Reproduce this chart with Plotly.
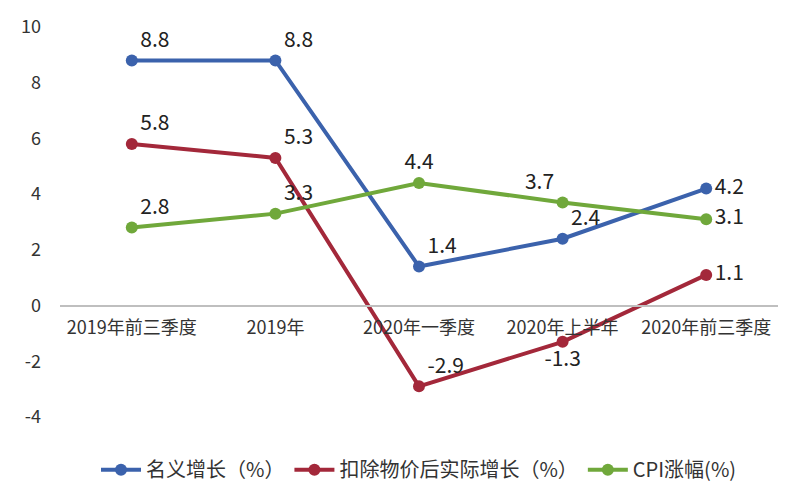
import plotly.graph_objects as go

categories = ["2019年前三季度", "2019年", "2020年一季度", "2020年上半年", "2020年前三季度"]
nominal = [8.8, 8.8, 1.4, 2.4, 4.2]
real = [5.8, 5.3, -2.9, -1.3, 1.1]
cpi = [2.8, 3.3, 4.4, 3.7, 3.1]
y_ticks = [-4, -2, 0, 2, 4, 6, 8, 10]

FONT = "Noto Sans CJK SC"
blue, red, green = "#3B62AC", "#A3283A", "#70A83B"

fig = go.Figure()

def add(name, vals, color, pos):
    fig.add_trace(go.Scatter(
        x=categories, y=vals, name=name, mode="lines+markers+text",
        line=dict(color=color, width=4), marker=dict(color=color, size=12),
        text=[f"{v:.1f}" for v in vals], textposition=pos,
        textfont=dict(family=FONT, size=21, color="#222222"),
        cliponaxis=False,
    ))

add("名义增长（%）", nominal, blue, ["top right", "top right", "top right", "top right", "middle right"])
add("扣除物价后实际增长（%）", real, red, ["top right", "top right", "top right", "bottom center", "middle right"])
add("CPI涨幅(%)", cpi, green, ["top right", "top right", "top center", "top left", "middle right"])

ymin, ymax = -4, 10
fig.update_layout(
    width=800, height=501,
    margin=dict(l=60, r=22, t=25, b=77),
    paper_bgcolor="white", plot_bgcolor="white",
    font=dict(family=FONT, color="#333333"),
    showlegend=True,
    legend=dict(orientation="h", x=0.5, xanchor="center", y=-0.085, yanchor="top",
                font=dict(family=FONT, size=20, color="#333333"), itemwidth=40),
    xaxis=dict(type="category", anchor="free", position=(0 - ymin) / (ymax - ymin),
               showline=True, linecolor="#BFBFBF", linewidth=2, showgrid=False,
               ticks="", tickfont=dict(family=FONT, size=18, color="#333333"),
               ticklabelstandoff=6, range=[-0.5, 4.5]),
    yaxis=dict(range=[ymin, ymax], tickvals=y_ticks, ticktext=[str(v) for v in y_ticks],
               showgrid=False, zeroline=False,
               showline=False, ticks="", tickfont=dict(family=FONT, size=18, color="#333333"),
               ticklabelstandoff=18),
)

fig.write_html("out.html")
